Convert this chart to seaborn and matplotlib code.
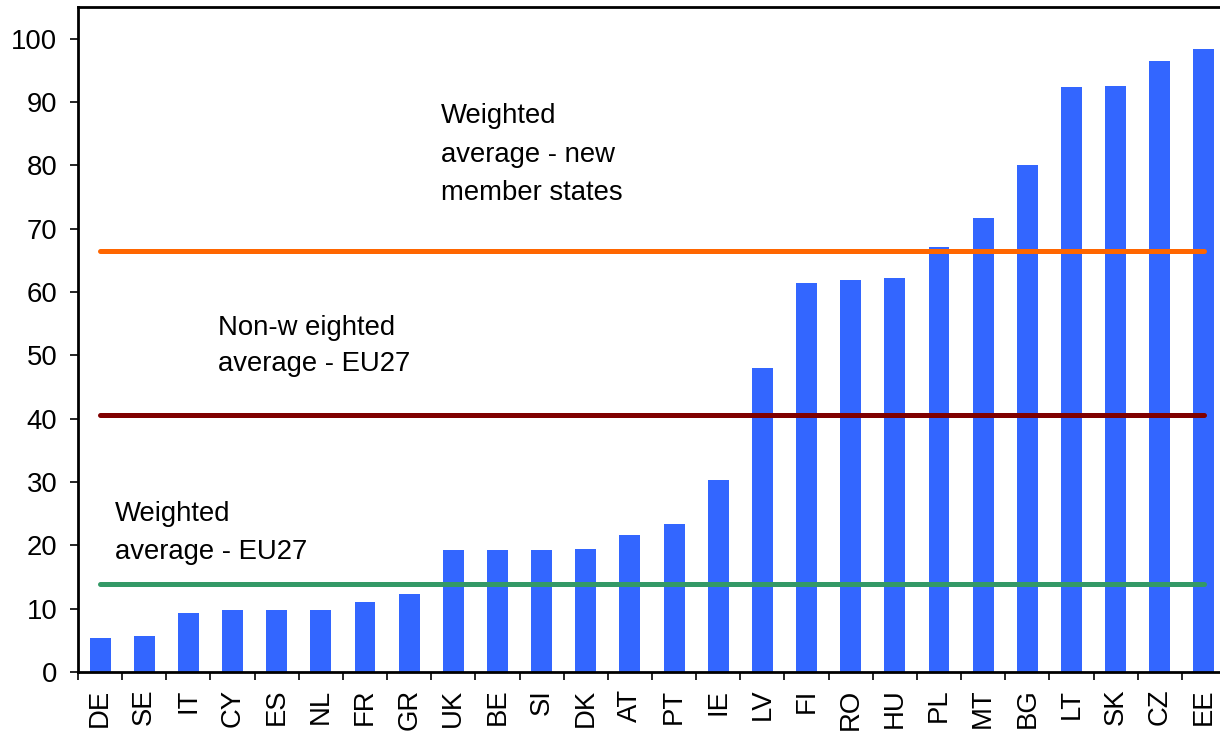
import matplotlib
matplotlib.use("Agg")
import matplotlib.pyplot as plt
import seaborn as sns
import pandas as pd
from matplotlib.ticker import FixedLocator

countries = ["DE", "SE", "IT", "CY", "ES", "NL", "FR", "GR", "UK", "BE", "SI", "DK", "AT",
             "PT", "IE", "LV", "FI", "RO", "HU", "PL", "MT", "BG", "LT", "SK", "CZ", "EE"]
values = [5.4, 5.7, 9.3, 9.8, 9.8, 9.8, 11.1, 12.3, 19.2, 19.2, 19.2, 19.5, 21.6,
          23.4, 30.3, 48.0, 61.4, 61.9, 62.2, 67.1, 71.7, 80.0, 92.3, 92.6, 96.4, 98.4]

avg_new_members = 66.5
avg_nonweighted_eu27 = 40.6
avg_weighted_eu27 = 13.9

sns.set_theme(style="white")
plt.rcParams['font.family'] = ['Liberation Sans', 'DejaVu Sans']

W, H = 1220, 732
fig = plt.figure(figsize=(W / 100, H / 100), dpi=100)
ax = fig.add_axes([78 / W, (H - 672) / H, 1148 / W, (672 - 7) / H])

df = pd.DataFrame({"country": countries, "value": values})
sns.barplot(data=df, x="country", y="value", color="#3366FF", saturation=1,
            width=0.475, ax=ax, edgecolor="none")

n = len(countries)
lw = 3.6
ax.plot([0, n - 1], [avg_new_members] * 2, color="#FF6600", lw=lw, solid_capstyle="round", zorder=3)
ax.plot([0, n - 1], [avg_nonweighted_eu27] * 2, color="#800000", lw=lw, solid_capstyle="round", zorder=3)
ax.plot([0, n - 1], [avg_weighted_eu27] * 2, color="#339966", lw=lw, solid_capstyle="round", zorder=3)

fs = 19.8
def label(x, ys, lines):
    for y, t in zip(ys, lines):
        ax.text(x, y, t, fontsize=fs, va="baseline", ha="left", color="black")

label(7.72, [86.7, 80.5, 74.5], ["Weighted", "average - new", "member states"])
label(2.67, [53.2, 47.5], ["Non-w eighted", "average - EU27"])
label(0.33, [23.9, 17.8], ["Weighted", "average - EU27"])

ax.set_xlim(-0.5, n - 0.5)
ax.set_ylim(0, 105)
ax.set_yticks(range(0, 101, 10))
ax.set_xlabel("")
ax.set_ylabel("")
ax.set_xticks(range(n))
ax.set_xticklabels(countries, rotation=90, fontsize=fs, color="black")
ax.xaxis.set_minor_locator(FixedLocator([i - 0.5 for i in range(n + 1)]))
ax.tick_params(axis="x", which="major", length=0, pad=12, labelcolor="black")
ax.tick_params(axis="x", which="minor", length=6, width=1.2, color="black", bottom=True)
ax.tick_params(axis="y", which="major", length=5.8, width=1.2, color="black", left=True,
               labelsize=fs, pad=9, labelcolor="black")

for s in ["left", "bottom", "top"]:
    ax.spines[s].set_visible(True)
    ax.spines[s].set_color("black")
    ax.spines[s].set_linewidth(2)
ax.spines["right"].set_visible(False)

fig.savefig("out.png", dpi=100)
